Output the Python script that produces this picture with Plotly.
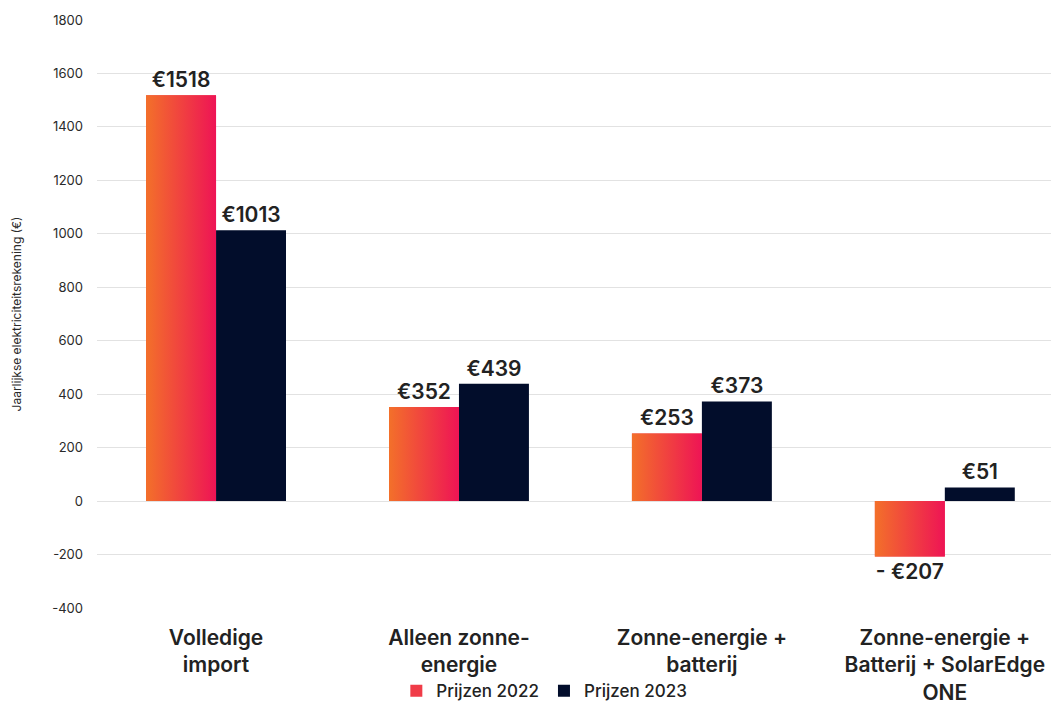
import plotly.graph_objects as go

categories = ["Volledige<br>import", "Alleen zonne-<br>energie", "Zonne-energie +<br>batterij",
              "Zonne-energie +<br>Batterij + SolarEdge<br>ONE"]
series_names = ["Prijzen 2022", "Prijzen 2023"]
values_2022 = [1518, 352, 253, -207]
values_2023 = [1013, 439, 373, 51]
y_ticks = [-400, -200, 0, 200, 400, 600, 800, 1000, 1200, 1400, 1600, 1800]
y_tick_labels = [str(v) for v in y_ticks]

GRAD_LEFT = "#f3702a"
GRAD_RIGHT = "#ee1455"
DARK = "#020d2b"
BAR_W = 0.288
FONT = "Inter, Noto Sans, sans-serif"


def label(v):
    return f"€{v}" if v >= 0 else f"- €{abs(v)}"


xs = list(range(len(categories)))
fig = go.Figure()

fig.add_trace(go.Bar(
    x=xs, y=values_2022, name=series_names[0], width=BAR_W, offset=-BAR_W,
    marker=dict(color="#f03c48", line=dict(width=0)),
    text=[label(v) for v in values_2022], textposition="outside",
    textfont=dict(family=FONT, size=21, color="#222222", weight=600),
    cliponaxis=False,
))
fig.add_trace(go.Bar(
    x=xs, y=values_2023, name=series_names[1], width=BAR_W, offset=0,
    marker=dict(color=DARK, line=dict(width=0)),
    text=[label(v) for v in values_2023], textposition="outside",
    textfont=dict(family=FONT, size=21, color="#222222", weight=600),
    cliponaxis=False,
))

# gradient overlay on the 2022 bars, derived from the same values
for x, v in zip(xs, values_2022):
    x0, x1 = x - BAR_W, x
    fig.add_trace(go.Scatter(
        x=[x0, x1, x1, x0, x0], y=[0, 0, v, v, 0], mode="lines", fill="toself",
        line=dict(width=0), showlegend=False, hoverinfo="skip",
        fillgradient=dict(type="horizontal", colorscale=[[0, GRAD_LEFT], [1, GRAD_RIGHT]]),
    ))

fig.update_layout(
    width=1059, height=703,
    margin=dict(l=89, r=8, t=12, b=103, autoexpand=False),
    paper_bgcolor="white", plot_bgcolor="white",
    font=dict(family=FONT, color="#333333"),
    barmode="overlay",
    showlegend=True,
    legend=dict(orientation="h", x=0.465, xanchor="center", y=-0.111, yanchor="top",
                bgcolor="rgba(0,0,0,0)",
                font=dict(family=FONT, size=17, color="#222222", weight=500),
                itemwidth=30, traceorder="normal"),
)
fig.update_xaxes(
    range=[-0.49, 3.47], tickvals=xs, ticktext=categories, showgrid=False,
    zeroline=False, showline=False, ticks="", automargin=False, ticklabelstandoff=15,
    tickfont=dict(family=FONT, size=21, color="#222222", weight=600),
)
fig.update_yaxes(
    range=[-400, 1800], tickvals=y_ticks, ticktext=y_tick_labels, showgrid=True,
    gridcolor="#e2e2e2", gridwidth=1.3,
    zeroline=True, zerolinecolor="#e2e2e2", zerolinewidth=1.3, showline=False, ticks="",
    automargin=False,
    tickfont=dict(family=FONT, size=13, color="#2a2a2a"), ticklabelstandoff=13,
    title=dict(text="Jaarlijkse elektriciteitsrekening (€)", font=dict(family=FONT, size=12, color="#2a2a2a"),
               standoff=28),
)

fig.write_html("out.html")
